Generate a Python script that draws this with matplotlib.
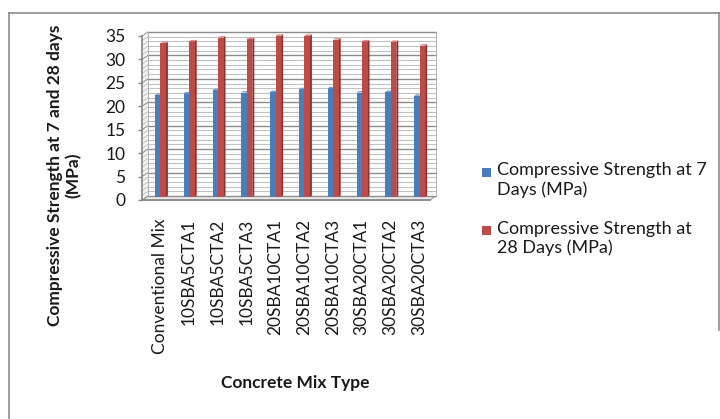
import numpy as np
import matplotlib
matplotlib.use('Agg')
import matplotlib.pyplot as plt
from matplotlib.patches import Polygon, Rectangle
from matplotlib.lines import Line2D

plt.rcParams['font.family'] = ['Lato', 'DejaVu Sans']

mixes = ['Conventional Mix', '10SBA5CTA1', '10SBA5CTA2', '10SBA5CTA3',
         '20SBA10CTA1', '20SBA10CTA2', '20SBA10CTA3',
         '30SBA20CTA1', '30SBA20CTA2', '30SBA20CTA3']
strength_7d = [21.8, 22.1, 22.8, 22.3, 22.4, 23.0, 23.2, 22.3, 22.4, 21.6]
strength_28d = [32.8, 33.2, 34.0, 33.7, 34.4, 34.4, 33.6, 33.2, 33.1, 32.3]
labels = ['Compressive Strength at 7\nDays (MPa)',
          'Compressive Strength at\n28 Days (MPa)']

W, H = 720, 419
fig = plt.figure(figsize=(W / 100, H / 100), dpi=100)

# front plane of the 3-D box, in pixels
x0, x1, y0, y1 = 142, 430, 200, 36
ax = fig.add_axes([x0 / W, 1 - y0 / H, (x1 - x0) / W, (y0 - y1) / H])
ax.set_xlim(-0.5, 9.5)
ax.set_ylim(0, 35)
ax.patch.set_visible(False)
for s in ax.spines.values():
    s.set_visible(False)

px_cat = (x1 - x0) / 10
px_val = (y0 - y1) / 35
dxp = lambda p: p / px_cat
dyp = lambda p: p / px_val

BX, BY = dxp(6), dyp(4)      # back wall depth
FX, FY = dxp(4), dyp(3)      # bar front face
DX, DY = dxp(2), dyp(1.5)    # bar depth

# floor
ax.add_patch(Polygon([(-0.5, 0), (9.5, 0), (9.5 + BX, BY), (-0.5 + BX, BY)],
                     closed=True, fc='#ececec', ec='#9a9a9a', lw=0.8, zorder=1, clip_on=False))
# back wall and side wall
ax.add_patch(Rectangle((-0.5 + BX, BY), 10, 35, fc='white', ec='none', zorder=1, clip_on=False))
ax.add_patch(Polygon([(-0.5, 0), (-0.5 + BX, BY), (-0.5 + BX, 35 + BY), (-0.5, 35)],
                     closed=True, fc='#f4f4f4', ec='none', zorder=1, clip_on=False))

for v in range(0, 36):
    major = v % 5 == 0
    col = '#8c8c8c' if major else '#c2c2c2'
    lw = 1.0 if major else 0.8
    ax.add_line(Line2D([-0.5 + BX, 9.5 + BX], [v + BY, v + BY], color=col, lw=lw,
                       zorder=2, clip_on=False))
    ax.add_line(Line2D([-0.5, -0.5 + BX], [v, v + BY], color=col, lw=0.7,
                       zorder=2, clip_on=False))
ax.add_line(Line2D([-0.5 + BX, -0.5 + BX], [BY, 35 + BY], color='#b0b0b0', lw=0.7,
                   zorder=2, clip_on=False))
ax.add_line(Line2D([9.5 + BX, 9.5 + BX], [BY, 35 + BY], color='#b0b0b0', lw=0.7,
                   zorder=2, clip_on=False))
ax.add_line(Line2D([-0.5, 9.5], [0, 0], color='#868686', lw=1.2, zorder=6, clip_on=False))
ax.add_line(Line2D([-0.5, -0.5], [0, 35], color='#868686', lw=1.2, zorder=6, clip_on=False))

# columns
idx = np.arange(len(mixes))
bw = dxp(5.5)
series = [(strength_7d, -bw, '#4a7ebb', '#7ba2d2', '#2f5a8e'),
          (strength_28d, 0.0, '#be4b48', '#d98886', '#8c3331')]
for vals, off, front, top, side in series:
    left = idx + FX + off
    ax.bar(left, vals, width=bw, bottom=FY, align='edge', color=front,
           lw=0, zorder=4, clip_on=False)
    for xl, v in zip(left, vals):
        yt = v + FY
        ax.add_patch(Polygon([(xl, yt), (xl + bw, yt), (xl + bw + DX, yt + DY), (xl + DX, yt + DY)],
                             closed=True, fc=top, ec='none', zorder=4, clip_on=False))
        ax.add_patch(Polygon([(xl + bw, FY), (xl + bw, yt), (xl + bw + DX, yt + DY), (xl + bw + DX, FY + DY)],
                             closed=True, fc=side, ec='none', zorder=3.9, clip_on=False))

text_col = '#1a1a1a'
ax.set_yticks(range(0, 36, 5))
ax.tick_params(axis='y', direction='out', length=3, width=1, color='#868686',
               labelsize=12.5, labelcolor=text_col, pad=9)
ax.set_xticks(idx + dxp(3.6))
ax.set_xticklabels(mixes, rotation=90, va='top', ha='center')
ax.tick_params(axis='x', length=0, pad=13.5, labelsize=12.5, labelcolor=text_col)

fig.text(295 / W, 1 - 383 / H, 'Concrete Mix Type', ha='center', va='center',
         fontsize=12.5, fontweight='bold', color=text_col)
# y title, one text per line
for lx, line in [(55, 'Compressive Strength at 7 and 28 days'), (73, '(MPa)')]:
    fig.text(lx / W, 1 - 175 / H, line, rotation=90, ha='center', va='center',
             fontsize=12.5, fontweight='bold', color=text_col)

# legend
for (ly, col), lab in zip([(172.5, '#4a7ebb'), (230.5, '#be4b48')], labels):
    fig.patches.append(Rectangle((482 / W, 1 - (ly + 4.5) / H), 9 / W, 9 / H,
                                 transform=fig.transFigure, fc=col, ec='none'))
    fig.text(497 / W, 1 - (ly - 10) / H, lab, ha='left', va='top', fontsize=13,
             color=text_col, linespacing=1.2)

# chart border
for xs, ys in [([9, 9], [13, 419]), ([9, 720], [13, 13]), ([719, 719], [13, 330])]:
    fig.add_artist(Line2D([x / W for x in xs], [1 - y / H for y in ys],
                          transform=fig.transFigure, color='#8c8c8c', lw=1.2))

fig.savefig('out.png', dpi=100, facecolor='white')
